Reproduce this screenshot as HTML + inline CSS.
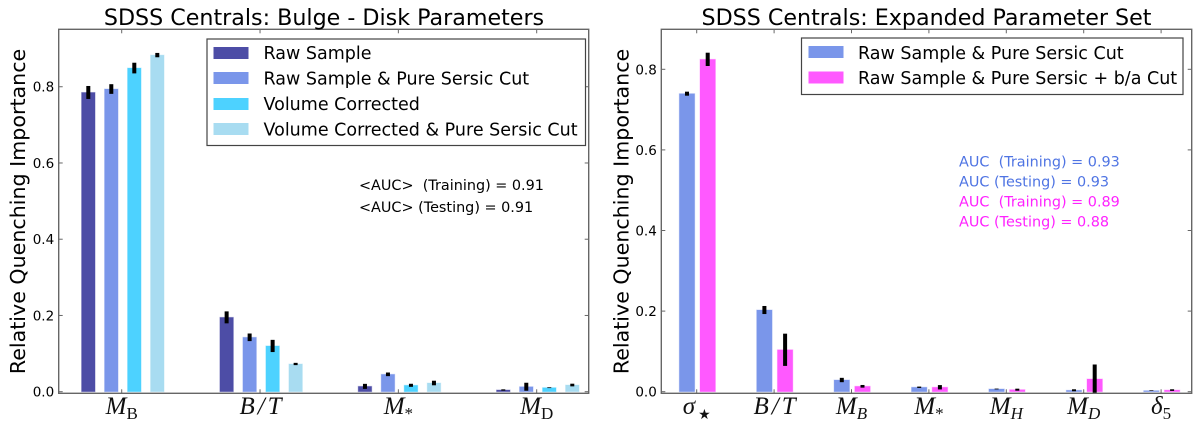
<!DOCTYPE html>
<html>
<head>
<meta charset="utf-8">
<title>SDSS Centrals Quenching Importance</title>
<style>
html,body{margin:0;padding:0;background:#fff;}
svg{display:block;font-family:"DejaVu Sans","Liberation Sans",sans-serif;}
.tick{font-size:13.5px;fill:#000;}
.title{font-size:22.2px;fill:#000;text-anchor:middle;}
.ylab{font-size:20.6px;fill:#000;text-anchor:middle;}
.leg{font-size:17.5px;fill:#000;}
.auc{font-size:14.4px;}
.math{font-family:"Liberation Serif","DejaVu Serif",serif;font-size:25px;fill:#111;text-anchor:middle;}
</style>
</head>
<body>
<svg id="fig" xmlns="http://www.w3.org/2000/svg" width="1200" height="428" viewBox="0 0 1200 428">
<defs>
<clipPath id="clipL"><rect x="59" y="29" width="530" height="364.5"/></clipPath>
<clipPath id="clipR"><rect x="661" y="29" width="531" height="364.5"/></clipPath>
</defs>
<g id="left-marks" clip-path="url(#clipL)"></g>
<g id="right-marks" clip-path="url(#clipR)"></g>
<g id="left-axis"></g>
<g id="right-axis"></g>

<text class="title" x="324" y="25">SDSS Centrals: Bulge - Disk Parameters</text>
<text class="title" x="926.5" y="25">SDSS Centrals: Expanded Parameter Set</text>
<text class="ylab" transform="translate(25,211.5) rotate(-90)">Relative Quenching Importance</text>
<text class="ylab" transform="translate(628.5,211.5) rotate(-90)">Relative Quenching Importance</text>

<g>
<rect x="207" y="39" width="378.5" height="106.5" fill="#fff" stroke="#444" stroke-width="1.2"/>
<rect x="213.5" y="47" width="35" height="12" fill="#4d4da6"/>
<text class="leg" x="263.5" y="59">Raw Sample</text>
<rect x="213.5" y="72" width="35" height="12" fill="#7a96ea"/>
<text class="leg" x="263.5" y="84.5">Raw Sample &amp; Pure Sersic Cut</text>
<rect x="213.5" y="98" width="35" height="12" fill="#4dd2ff"/>
<text class="leg" x="263.5" y="110">Volume Corrected</text>
<rect x="213.5" y="123" width="35" height="12" fill="#a8dcf1"/>
<text class="leg" x="263.5" y="135.5">Volume Corrected &amp; Pure Sersic Cut</text>
</g>

<g>
<rect x="801.5" y="38" width="381.5" height="56.5" fill="#fff" stroke="#444" stroke-width="1.2"/>
<rect x="808.5" y="46" width="35" height="12" fill="#7a96ea"/>
<text class="leg" x="858" y="59">Raw Sample &amp; Pure Sersic Cut</text>
<rect x="808.5" y="71.5" width="35" height="12" fill="#ff59ff"/>
<text class="leg" x="858" y="84">Raw Sample &amp; Pure Sersic + b/a Cut</text>
</g>

<text class="auc" x="359" y="190" fill="#000" xml:space="preserve">&lt;AUC&gt;  (Training) = 0.91</text>
<text class="auc" x="359" y="212" fill="#000">&lt;AUC&gt; (Testing) = 0.91</text>
<text class="auc" x="959" y="166.5" fill="#4f74e3" xml:space="preserve">AUC  (Training) = 0.93</text>
<text class="auc" x="959" y="186.5" fill="#4f74e3">AUC (Testing) = 0.93</text>
<text class="auc" x="959" y="206.5" fill="#ff22ff" xml:space="preserve">AUC  (Training) = 0.89</text>
<text class="auc" x="959" y="226.5" fill="#ff22ff">AUC (Testing) = 0.88</text>
</svg>

<script>
// Left chart data
const leftCategories = ['M|B', 'B/T|', 'M|*', 'M|D'];
const leftSeriesNames = ['raw', 'raw-sersic', 'volume', 'volume-sersic'];
const leftRaw = [0.785, 0.195, 0.014, 0.0045];
const leftRawErr = [0.017, 0.0157, 0.0066, 0.0017];
const leftRawSersic = [0.794, 0.1427, 0.0456, 0.013];
const leftRawSersicErr = [0.0127, 0.01, 0.0048, 0.0105];
const leftVolume = [0.849, 0.12, 0.0168, 0.0105];
const leftVolumeErr = [0.014, 0.016, 0.004, 0.001];
const leftVolumeSersic = [0.883, 0.0727, 0.0228, 0.0175];
const leftVolumeSersicErr = [0.0057, 0.003, 0.006, 0.0035];
const leftTickLabels = ['0.0', '0.2', '0.4', '0.6', '0.8'];
const leftTickValues = [0, 0.2, 0.4, 0.6, 0.8];

// Right chart data
const rightCategories = ['σ|★', 'B/T|', 'M|B', 'M|*', 'M|H', 'M|D', 'δ|5'];
const rightSeriesNames = ['pure-sersic', 'pure-sersic-ba'];
const rightPure = [0.7395, 0.2027, 0.029, 0.011, 0.0067, 0.0035, 0.0025];
const rightPureErr = [0.005, 0.01, 0.0054, 0.0017, 0.001, 0.0025, 0.0008];
const rightBa = [0.8247, 0.104, 0.0134, 0.011, 0.005, 0.0315, 0.004];
const rightBaErr = [0.0165, 0.04, 0.0033, 0.0054, 0.0025, 0.036, 0.002];
const rightTickLabels = ['0.0', '0.2', '0.4', '0.6', '0.8'];
const rightTickValues = [0, 0.2, 0.4, 0.6, 0.8];

const NS = 'http://www.w3.org/2000/svg';
function mk(parent, tag, name, attrs) {
  const el = document.createElementNS(NS, tag);
  
  
  for (const k in attrs) el.setAttribute(k, attrs[k]);
  parent.appendChild(el);
  return el;
}

function drawChart(cfg) {
  const marks = document.getElementById(cfg.marksId);
  const axis = document.getElementById(cfg.axisId);
  const xTick = i => cfg.x0 + i * cfg.dx;
  const yPos = v => cfg.yZero - v * cfg.yScale;

  // bars, then error bars on top
  cfg.series.forEach((s, si) => {
    s.values.forEach((v, i) => {
      const cx = xTick(i) + cfg.offset0 + si * cfg.step;
      mk(marks, 'rect', 'bar-' + s.name + '-' + i, {
        x: cx - cfg.barW / 2, y: yPos(v), width: cfg.barW, height: Math.max(0, yPos(0) - yPos(v)),
        fill: s.color, stroke: s.color, 'stroke-opacity': 0.35, 'stroke-width': 1
      });
    });
  });
  cfg.series.forEach((s, si) => {
    s.values.forEach((v, i) => {
      const cx = xTick(i) + cfg.offset0 + si * cfg.step;
      mk(marks, 'line', 'error-bar-' + s.name + '-' + i, {
        x1: cx, x2: cx, y1: yPos(v + s.errors[i]), y2: yPos(v - s.errors[i]),
        stroke: '#000', 'stroke-width': 4
      });
    });
  });

  // ticks
  const c = '#666';
  cfg.yTicks.forEach((v, i) => {
    const y = yPos(v);
    mk(axis, 'line', 'y-tick-left-' + i, { x1: cfg.left, x2: cfg.left + 4, y1: y, y2: y, stroke: c, 'stroke-width': 1 });
    mk(axis, 'line', 'y-tick-right-' + i, { x1: cfg.right - 4, x2: cfg.right, y1: y, y2: y, stroke: c, 'stroke-width': 1 });
    const t = mk(axis, 'text', 'y-tick-label-' + i, { class: 'tick', x: cfg.left - 4.5, y: y + 5, 'text-anchor': 'end' });
    t.textContent = cfg.yLabels[i];
  });
  cfg.categories.forEach((cat, i) => {
    const x = xTick(i);
    mk(axis, 'line', 'x-tick-bottom-' + i, { x1: x, x2: x, y1: cfg.bottom, y2: cfg.bottom - 4, stroke: c, 'stroke-width': 1 });
    mk(axis, 'line', 'x-tick-top-' + i, { x1: x, x2: x, y1: cfg.top, y2: cfg.top + 4, stroke: c, 'stroke-width': 1 });
    const parts = cat.split('|');
    const wide = parts[0].length > 1;
    const t = mk(axis, 'text', 'x-tick-label-' + i, { class: 'math', x: wide ? x + 2 : x, y: 414 });
    const main = mk(t, 'tspan', 'x-tick-symbol-' + i, { 'font-style': 'italic' });
    if (wide) main.setAttribute('letter-spacing', '3px');
    main.textContent = parts[0];
    if (parts[1]) {
      const upright = /^[a-z0-9★*]$/.test(parts[1]) || cfg.romanSubs;
      const isStar = parts[1] === '★';
      const sub = mk(t, 'tspan', 'x-tick-subscript-' + i, {
        'font-size': isStar ? '14px' : '17px', dy: 5, dx: isStar ? 3 : 0, 'font-style': upright ? 'normal' : 'italic'
      });
      sub.textContent = parts[1];
    }
  });

  // spines
  mk(axis, 'rect', 'plot-frame', {
    x: cfg.left, y: cfg.top, width: cfg.right - cfg.left, height: cfg.bottom - cfg.top,
    fill: 'none', stroke: '#666', 'stroke-width': 1.4
  });
}

drawChart({
  marksId: 'left-marks', axisId: 'left-axis',
  left: 58.7, right: 588.7, top: 29.3, bottom: 393.3,
  x0: 121.7, dx: 138.33, yZero: 391.7, yScale: 381.2,
  offset0: -33.4, step: 23, barW: 13.5, romanSubs: true,
  categories: leftCategories, yTicks: leftTickValues, yLabels: leftTickLabels,
  series: [
    { name: leftSeriesNames[0], color: '#4d4da6', values: leftRaw, errors: leftRawErr },
    { name: leftSeriesNames[1], color: '#7a96ea', values: leftRawSersic, errors: leftRawSersicErr },
    { name: leftSeriesNames[2], color: '#4dd2ff', values: leftVolume, errors: leftVolumeErr },
    { name: leftSeriesNames[3], color: '#a8dcf1', values: leftVolumeSersic, errors: leftVolumeSersicErr }
  ]
});

drawChart({
  marksId: 'right-marks', axisId: 'right-axis',
  left: 661.3, right: 1191.7, top: 29.3, bottom: 393.3,
  x0: 696.7, dx: 77.4, yZero: 391.7, yScale: 403,
  offset0: -9.7, step: 20.7, barW: 15.4, romanSubs: false,
  categories: rightCategories, yTicks: rightTickValues, yLabels: rightTickLabels,
  series: [
    { name: rightSeriesNames[0], color: '#7a96ea', values: rightPure, errors: rightPureErr },
    { name: rightSeriesNames[1], color: '#ff59ff', values: rightBa, errors: rightBaErr }
  ]
});
</script>
</body>
</html>
